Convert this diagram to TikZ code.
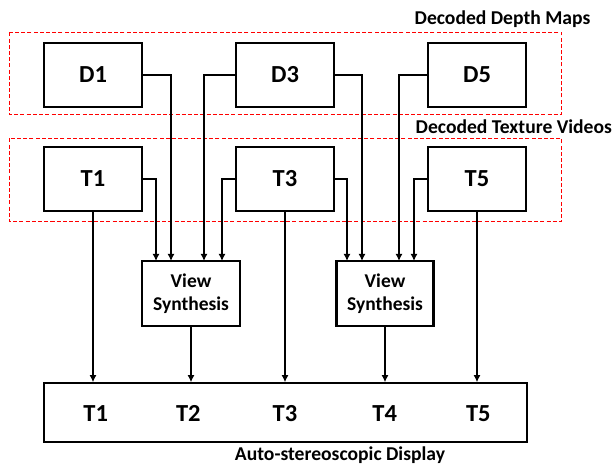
\documentclass[tikz,border=0pt]{standalone}
\usepackage{fontspec}
\setmainfont{Carlito}
\usetikzlibrary{positioning, arrows.meta}

\begin{document}
\begin{tikzpicture}[x=1pt,y=-1pt,
  blk/.style={draw,line width=2.2pt,minimum width=98pt,minimum height=64pt,font=\fontsize{24.5}{27}\selectfont\bfseries},
  synth/.style={draw,line width=2.2pt,minimum width=98pt,minimum height=65pt,align=center,font=\fontsize{19.5}{23.3}\selectfont\bfseries},
  grp/.style={draw=red,line width=1.2pt,dash pattern=on 4pt off 2.2pt},
  ttl/.style={font=\fontsize{19.6}{22}\selectfont\bfseries,inner sep=0pt},
  lbl/.style={font=\fontsize{24.5}{27}\selectfont\bfseries},
  link/.style={line width=2pt,-{Latex[length=7pt,width=7pt]}}]
\useasboundingbox (0,0) rectangle (614,465);

% --- decoded depth maps ---
\draw[grp] (9.5,32.5) rectangle (561.5,114.5);
\node[ttl,anchor=base] (dtitle) at (502.5,25) {Decoded Depth Maps};
\node[blk] (d1) at (93,75) {D1};
\node[blk] (d3) at (285,75) {D3};
\node[blk] (d5) at (477,75) {D5};

% --- decoded texture videos ---
\draw[grp] (9.5,138.5) rectangle (561.5,221.5);
\node[ttl,anchor=base west] (ttitle) at (415.5,133.3) {Decoded Texture Videos};
\node[blk] (t1) at (93,179) {T1};
\node[blk] (t3) at (285,179) {T3};
\node[blk] (t5) at (477,179) {T5};

% --- view synthesis ---
\node[synth] (vs1) at (191,293.5) {View\\Synthesis};
\node[synth,minimum width=97pt] (vs2) at (385,293.5) {View\\Synthesis};
\coordinate (in1) at (156,261);
\coordinate (in2) at (171,261);
\coordinate (in3) at (204,261);
\coordinate (in4) at (222,261);
\coordinate (in5) at (347,261);
\coordinate (in6) at (362,261);
\coordinate (in7) at (399,261);
\coordinate (in8) at (414,261);

\draw[link] (t1.east) -| (in1);
\draw[link] (d1.east) -| (in2);
\draw[link] (d3.west) -| (in3);
\draw[link] (t3.west) -| (in4);
\draw[link] (t3.east) -| (in5);
\draw[link] (d3.east) -| (in6);
\draw[link] (d5.west) -| (in7);
\draw[link] (t5.west) -| (in8);

% --- display ---
\node[draw,line width=2.2pt,minimum width=482.7pt,minimum height=58.4pt] (disp) at (285.3,412.5) {};
\node[ttl,anchor=base] (dcap) at (340,460.7) {Auto-stereoscopic Display};
\foreach \n/\x in {1/95.7,2/188.3,3/285,4/384.7,5/478.3}{
  \node[lbl] (p\n) at (\x,413.3) {T\n};
}
\draw[link] (t1) -- (t1 |- disp.north);
\draw[link] (vs1) -- (vs1 |- disp.north);
\draw[link] (t3) -- (t3 |- disp.north);
\draw[link] (vs2) -- (vs2 |- disp.north);
\draw[link] (t5) -- (t5 |- disp.north);
\end{tikzpicture}
\end{document}
